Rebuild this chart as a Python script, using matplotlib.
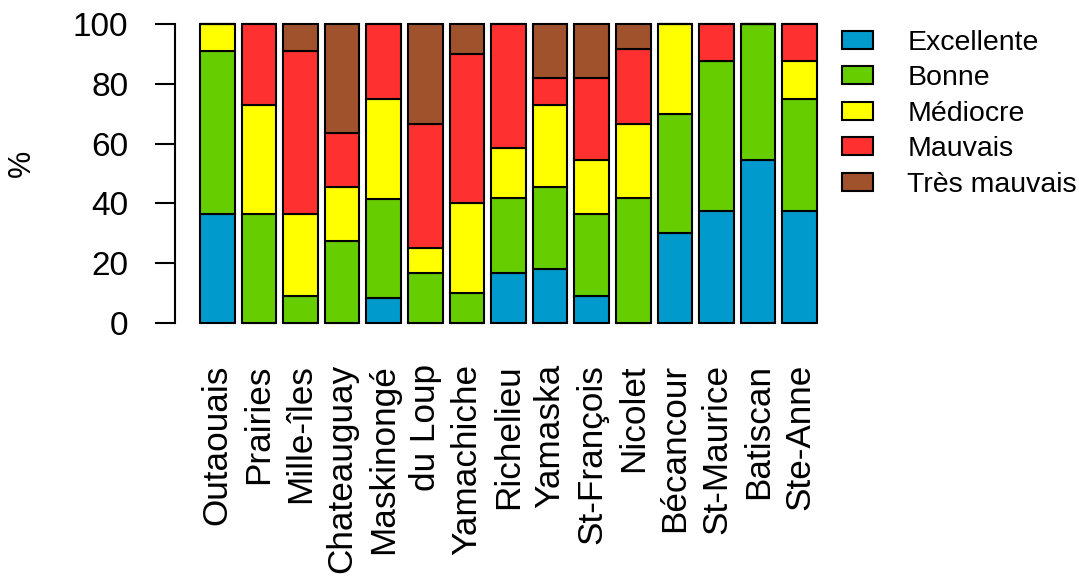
import matplotlib
matplotlib.use("Agg")
import matplotlib.pyplot as plt
import numpy as np
from matplotlib.patches import Patch

plt.rcParams['font.family'] = ['Liberation Sans', 'DejaVu Sans']

regions = ["Outaouais", "Prairies", "Mille-îles", "Chateauguay", "Maskinongé",
           "du Loup", "Yamachiche", "Richelieu", "Yamaska", "St-François",
           "Nicolet", "Bécancour", "St-Maurice", "Batiscan", "Ste-Anne"]
categories = ["Excellente", "Bonne", "Médiocre", "Mauvais", "Très mauvais"]

excellente  = [36.4, 0.0, 0.0, 0.0, 8.3, 0.0, 0.0, 16.7, 18.2, 9.1, 0.0, 30.0, 37.5, 54.5, 37.5]
bonne       = [54.5, 36.4, 9.1, 27.3, 33.3, 16.7, 10.0, 25.0, 27.3, 27.3, 41.7, 40.0, 50.0, 45.5, 37.5]
mediocre    = [9.1, 36.4, 27.3, 18.2, 33.3, 8.3, 30.0, 16.7, 27.3, 18.2, 25.0, 30.0, 0.0, 0.0, 12.5]
mauvais     = [0.0, 27.2, 54.5, 18.1, 25.1, 41.7, 50.0, 41.6, 9.1, 27.3, 25.0, 0.0, 12.5, 0.0, 12.5]
tres_mauvais = [0.0, 0.0, 9.1, 36.4, 0.0, 33.3, 10.0, 0.0, 18.1, 18.1, 8.3, 0.0, 0.0, 0.0, 0.0]

series = [excellente, bonne, mediocre, mauvais, tres_mauvais]
colors = ["#009ACD", "#66CD00", "#FFFF00", "#FF3030", "#A0522D"]

fig = plt.figure(figsize=(10.79, 5.80), dpi=100)
ax = fig.add_axes([175/1079, 1 - 335/580, (849 - 175)/1079, (335 - 12)/580])

x = 0.7 + 1.2 * np.arange(len(regions))
bottom = np.zeros(len(regions))
for vals, col in zip(series, colors):
    v = np.array(vals)
    ax.bar(x, v, width=1.0, bottom=bottom, color=col, edgecolor="black", linewidth=1.5)
    bottom += v

ax.set_xlim(-0.52, 18.92)
ax.set_ylim(-4, 104)
for s in ["top", "right", "bottom"]:
    ax.spines[s].set_visible(False)
ax.spines["left"].set_bounds(0, 100)
ax.spines["left"].set_linewidth(1.5)
ax.set_yticks([0, 20, 40, 60, 80, 100])
ax.tick_params(axis="y", length=14.5, width=1.5, pad=19, labelsize=24)
ax.set_xticks(x)
ax.set_xticklabels(regions, rotation=90, fontsize=25.3)
ax.tick_params(axis="x", length=0, pad=21)
ax.set_ylabel("%", fontsize=22)
ax.yaxis.set_label_coords(-0.205, 0.53)

handles = [Patch(facecolor=c, edgecolor="black", linewidth=1.5) for c in colors]
fig.legend(handles, categories, loc="upper left", bbox_to_anchor=(842/1079, 1 - 30/580),
           frameon=False, fontsize=20.5, handlelength=1.09, handleheight=0.6,
           handletextpad=1.2, labelspacing=0.33, borderaxespad=0, borderpad=0)

fig.savefig("out.png", dpi=100)
